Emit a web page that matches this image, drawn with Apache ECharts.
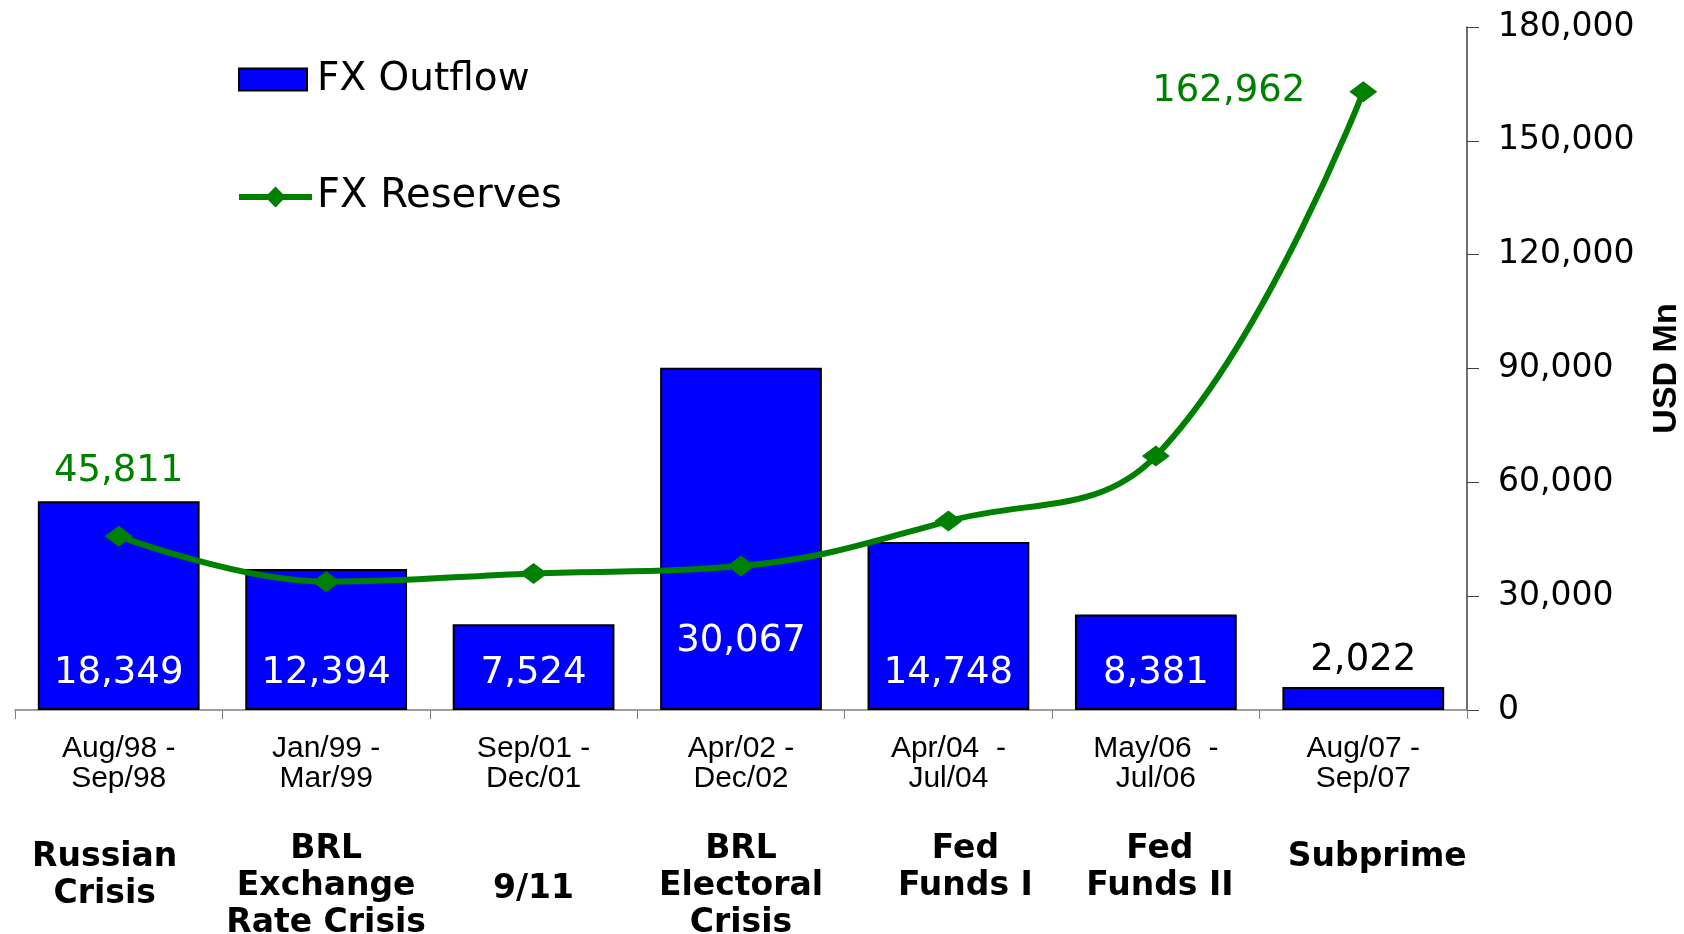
<!DOCTYPE html>
<html>
<head>
<meta charset="utf-8">
<script src="https://cdn.jsdelivr.net/npm/echarts@6/dist/echarts.min.js"></script>
<style>
  html, body { margin: 0; padding: 0; background: #fff; }
  #chart { width: 1684px; height: 934px; }
</style>
</head>
<body>
<div id="chart"></div>
<script>
const periods = ["Aug/98 -\nSep/98", "Jan/99 -\nMar/99", "Sep/01 -\nDec/01", "Apr/02 -\nDec/02",
                 "Apr/04  -\nJul/04", "May/06  -\nJul/06", "Aug/07 -\nSep/07"];
const crises = ["Russian\nCrisis", "BRL\nExchange\nRate Crisis", "9/11", "BRL\nElectoral\nCrisis",
                "Fed\nFunds I", "Fed\nFunds II", "Subprime"];
const fxOutflow = [18349, 12394, 7524, 30067, 14748, 8381, 2022];
const fxReserves = [45811, 33800, 36000, 37950, 49800, 66950, 162962];
const reserveTicks = [0, 30000, 60000, 90000, 120000, 150000, 180000];

const numFont = "DejaVu Sans";
const textFont = "'Liberation Sans', Arial, sans-serif";
const boldFont = "'DejaVu Sans', sans-serif";
const fmt = v => v.toLocaleString("en-US");

let chart = echarts.init(document.getElementById("chart"));

let barData = fxOutflow.map((v, i) => {
    let item = { value: v };
    if (i === fxOutflow.length - 1) {
        item.label = { position: "top", color: "#000", distance: 8 };
    } else if (i === 3) {
        item.label = { distance: 50 };
    }
    return item;
});

let lineData = fxReserves.map((v, i) => {
    let item = { value: v };
    if (i === 0) {
        item.label = { show: true, position: "top", distance: 36 };
    } else if (i === fxReserves.length - 1) {
        item.label = { show: true, position: "left", distance: 44 };
    }
    return item;
});

// the crisis names are not quite centred under their bars in the original
const spacer = ["s8", null, "s40", null, null, null, "s8"];
const nudge = ["left14", "n", "n", "n", "right17", "right4", "right14"];
const boldText = { fontFamily: boldFont, fontSize: 33, fontWeight: "bold", lineHeight: 37, color: "#000" };

let option = {
    backgroundColor: "#fff",
    animation: false,
    grid: { left: 15, right: 217, top: 27, bottom: 224, outerBoundsMode: "none" },
    legend: [
        {
            data: ["FX Outflow"],
            icon: "rect",
            left: 233, top: 55,
            itemWidth: 68, itemHeight: 22,
            textStyle: { fontFamily: numFont, fontSize: 39, color: "#000", padding: [0, 0, 0, 5] }
        },
        {
            data: ["FX Reserves"],
            left: 231, top: 172,
            itemWidth: 73, itemHeight: 26,
            lineStyle: { width: 6 },
            textStyle: { fontFamily: numFont, fontSize: 40, color: "#000", padding: [0, 0, 0, 0] }
        }
    ],
    xAxis: [
        {
            type: "category",
            data: periods,
            position: "bottom",
            axisLine: { lineStyle: { color: "#808080", width: 1.5 } },
            axisTick: { show: true, length: 9, lineStyle: { color: "#808080" } },
            axisLabel: {
                margin: 24, fontFamily: textFont, fontSize: 30, lineHeight: 30,
                color: "#000", interval: 0
            }
        },
        {
            type: "category",
            data: crises,
            position: "bottom",
            axisLine: { show: false },
            axisTick: { show: false },
            axisLabel: {
                margin: 121, interval: 0, color: "#000",
                formatter: (v, i) => {
                    let body = v.split("\n").map(s => "{" + nudge[i] + "|" + s + "}").join("\n");
                    return spacer[i] ? "{" + spacer[i] + "| }\n" + body : body;
                },
                rich: {
                    n: boldText,
                    left14: Object.assign({}, boldText, { padding: [0, 28, 0, 0] }),
                    right17: Object.assign({}, boldText, { padding: [0, 0, 0, 34] }),
                    right14: Object.assign({}, boldText, { padding: [0, 0, 0, 28] }),
                    right4: Object.assign({}, boldText, { padding: [0, 0, 0, 8] }),
                    s8: { fontSize: 1, lineHeight: 8 },
                    s40: { fontSize: 1, lineHeight: 40 }
                }
            }
        }
    ],
    yAxis: [
        { type: "value", min: 0, max: 60000, show: false, splitLine: { show: false } },
        {
            type: "value",
            position: "right",
            min: reserveTicks[0],
            max: reserveTicks[reserveTicks.length - 1],
            interval: reserveTicks[1] - reserveTicks[0],
            name: "USD Mn",
            nameLocation: "middle",
            nameRotate: 90,
            nameGap: 183,
            nameTextStyle: { fontFamily: "'Liberation Sans Narrow', 'Liberation Sans', sans-serif", fontSize: 34, fontWeight: "bold", color: "#000" },
            axisLine: { show: true, lineStyle: { color: "#404040", width: 1.5 } },
            axisTick: { show: true, length: 12, lineStyle: { color: "#404040" } },
            splitLine: { show: false },
            axisLabel: { margin: 31, fontFamily: numFont, fontSize: 33, color: "#000", formatter: fmt }
        }
    ],
    series: [
        {
            name: "FX Outflow",
            type: "bar",
            xAxisIndex: 0,
            yAxisIndex: 0,
            data: barData,
            barCategoryGap: "22%",
            itemStyle: { color: "#0000ff", borderColor: "#000", borderWidth: 2 },
            label: {
                show: true,
                position: "insideBottom",
                distance: 18,
                color: "#fff",
                fontFamily: numFont,
                fontSize: 37,
                formatter: p => fmt(p.value)
            }
        },
        {
            name: "FX Reserves",
            type: "line",
            xAxisIndex: 0,
            yAxisIndex: 1,
            data: lineData,
            smooth: 0.4,
            symbol: "diamond",
            symbolSize: [28, 21],
            lineStyle: { color: "#008000", width: 6 },
            itemStyle: { color: "#008000" },
            label: {
                show: false,
                color: "#008000",
                fontFamily: numFont,
                fontSize: 37,
                formatter: p => fmt(p.value)
            },
            z: 5
        }
    ]
};
chart.setOption(option);
</script>
</body>
</html>
